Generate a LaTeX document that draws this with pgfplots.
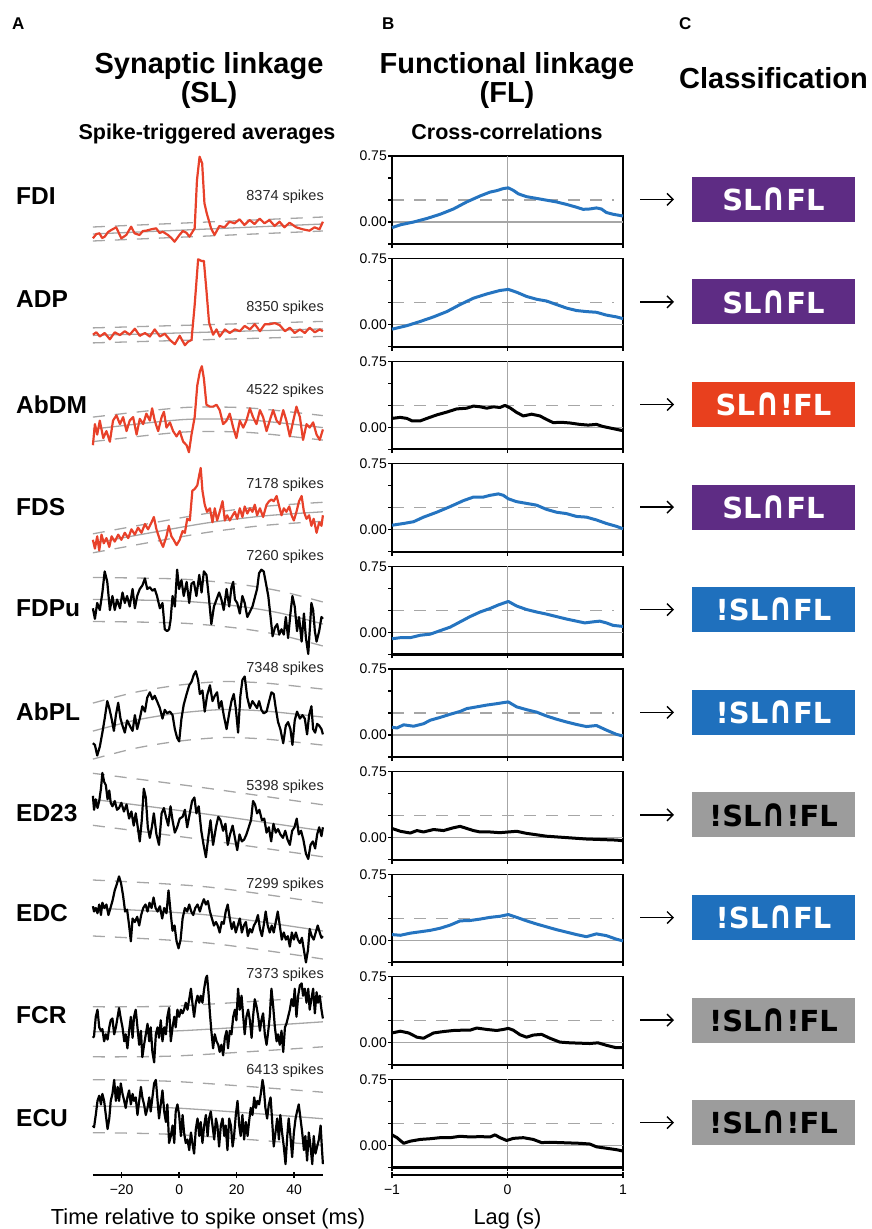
\documentclass[border=0pt]{standalone}
\usepackage{fontspec}
\setmainfont{Liberation Sans}
\newfontfamily\boxfont{DejaVu Sans}
\usepackage{graphicx}
\usepackage{pgfplots}
\pgfplotsset{compat=1.18}
\usetikzlibrary{arrows.meta}

\definecolor{stared}{HTML}{E8412A}
\definecolor{ccfblue}{HTML}{2574C0}
\definecolor{refgray}{HTML}{A6A6A6}
\definecolor{boxpurple}{HTML}{5E2C84}
\definecolor{boxred}{HTML}{E8401E}
\definecolor{boxblue}{HTML}{1F70BD}
\definecolor{boxgray}{HTML}{9C9C9C}
\newcommand\fs[1]{\fontsize{#1}{#1}\selectfont}
\newcommand\capp{\scalebox{1.05}[1.36]{∩}}

\pgfplotsset{
  ccf/.style={anchor=north west, scale only axis, width=231pt, height=88pt,
    xmin=-1, xmax=1, ymin=-0.25, ymax=0.75, enlargelimits=false, clip=false,
    axis line style={line width=1.2pt}, xtick={-1,0,1}, xticklabels={},
    ytick={0,0.75}, yticklabels={0.00,0.75}, minor ytick={-0.25,0.25,0.5},
    xtick pos=bottom, ytick pos=left, tick align=outside,
    major tick length=4pt, minor tick length=4pt, tick style={black, line width=1.2pt},
    yticklabel style={font={\fs{14}}, inner sep=1pt}},
  sta/.style={anchor=south west, x=2.875pt, y=10pt, xmin=-30, xmax=50,
    ymin=-6, ymax=8, enlargelimits=false, hide axis, clip=false},
  ref/.style={refgray, line width=1.3pt},
  sdash/.style={refgray, line width=1.3pt, dash pattern=on 12pt off 10pt},
  tracered/.style={stared, line width=2.2pt, line join=round},
  traceblack/.style={black, line width=2.2pt, line join=round},
  ccfb/.style={ccfblue, line width=3pt, line join=round},
  ccfk/.style={black, line width=3pt, line join=round},
}
\newcommand\ccfgrid{%
  \addplot[ref] coordinates {(-1,0) (1,0)};
  \addplot[ref] coordinates {(0,-0.25) (0,0.75)};
  \addplot[sdash] coordinates {(-1,0.25) (0.92,0.25)};
  \draw[line width=2.2pt] (rel axis cs:0,1) -- (rel axis cs:0,0) -- (rel axis cs:1,0);
}

\begin{document}
\begin{tikzpicture}
\useasboundingbox (0,0) rectangle (871pt,-1229pt);

% headers
\node[anchor=base west, font={\fs{17}\bfseries}, inner sep=0] at (12pt,-29pt) {A};
\node[anchor=base west, font={\fs{17}\bfseries}, inner sep=0] at (382pt,-29pt) {B};
\node[anchor=base west, font={\fs{17}\bfseries}, inner sep=0] at (679pt,-29pt) {C};
\node[anchor=base, font={\fs{29}\bfseries}, inner sep=0] at (209pt,-73pt) {Synaptic linkage};
\node[anchor=base, font={\fs{29}\bfseries}, inner sep=0] at (209pt,-102pt) {(SL)};
\node[anchor=base, font={\fs{21.5}\bfseries}, inner sep=0] at (207pt,-139pt) {Spike-triggered averages};
\node[anchor=base, font={\fs{29}\bfseries}, inner sep=0] at (507pt,-73pt) {Functional linkage};
\node[anchor=base, font={\fs{29}\bfseries}, inner sep=0] at (507pt,-102pt) {(FL)};
\node[anchor=base, font={\fs{21.5}\bfseries}, inner sep=0] at (507pt,-139pt) {Cross-correlations};
\node[anchor=base west, font={\fs{29}\bfseries}, inner sep=0] at (679pt,-88pt) {Classification};

% row labels
\foreach \yy/\nm in {204/FDI, 307.6/ADP, 413.6/AbDM, 515.1/FDS, 616.6/FDPu,
    720.2/AbPL, 821.2/ED23, 921.6/EDC, 1023.6/FCR, 1126.6/ECU}
  \node[anchor=base west, font={\fs{24.5}\bfseries}, inner sep=0] at (16pt,-\yy pt) {\nm};

% spike counts
\foreach \yy/\nm in {200.6/8374, 311.2/8350, 394.2/4522, 488.2/7178, 560.2/7260,
    672.2/7348, 790.2/5398, 888.2/7299, 978.2/7373, 1074.2/6413}
  \node[anchor=base east, font={\fs{14.5}}, text=black!85, inner sep=0] at (324pt,-\yy pt) {\nm\ spikes};

% ---------------- spike-triggered averages ----------------
% FDI
\begin{axis}[sta, at={(92.9pt,-289pt)}]
\addplot[ref] coordinates {(-30,-0.5) (50,0.5)};
\addplot[sdash] coordinates {(-30,0.2) (50,1.2)};
\addplot[sdash] coordinates {(-30,-1.2) (50,-0.2)};
\addplot[tracered] coordinates {(-30.0,-0.93) (-28.8,-0.5) (-27.7,-0.43) (-26.8,-0.9) (-25.9,-0.77) (-24.7,-0.3) (-23.6,-0.1) (-21.9,0.17) (-20.1,-0.93) (-18.4,-0.6) (-16.7,0.23) (-15.5,-0.43) (-13.8,-0.6) (-12.6,-0.2) (-11.5,-0.17) (-9.7,-0.03) (-8.0,0.07) (-6.8,-0.4) (-5.7,-0.27) (-3.9,-0.6) (-2.7,-0.9) (-1.6,-1.27) (0.1,-0.6) (1.3,-0.2) (2.5,-0.37) (3.6,-0.77) (5.4,0.07) (6.2,4.9) (7.1,7.23) (8.0,6.57) (8.8,2.57) (9.6,1.57) (11.1,0.07) (12.3,-0.6) (14.0,0.3) (15.8,0.17) (17.5,0.73) (19.3,0.57) (21.0,0.97) (22.7,0.4) (24.5,0.9) (26.2,0.5) (28.0,1.03) (29.7,0.57) (31.4,0.9) (33.2,0.3) (34.9,0.73) (36.6,0.17) (38.4,0.63) (40.7,0.17) (43.0,-0.03) (45.3,-0.17) (47.1,0.17) (48.8,-0.03) (50.0,0.73)};
\end{axis}
% ADP
\begin{axis}[sta, at={(92.9pt,-391.9pt)}]
\addplot[ref] coordinates {(-30,-0.35) (50,0.3)};
\addplot[sdash] coordinates {(-30,0.4) (50,1.05)};
\addplot[sdash] coordinates {(-30,-1.1) (50,-0.45)};
\addplot[tracered] coordinates {(-30.0,-0.28) (-28.8,-0.04) (-27.6,-0.46) (-25.9,-0.11) (-24.1,-0.74) (-22.4,-0.04) (-20.6,-0.32) (-18.9,0.07) (-17.2,-0.28) (-15.4,0.32) (-13.7,-0.39) (-11.9,-0.11) (-10.2,-0.46) (-8.5,0.25) (-6.7,-0.46) (-5.0,-0.18) (-3.2,-0.81) (-1.5,-1.23) (0.2,-0.39) (2.0,-1.33) (3.1,-0.98) (4.3,-0.81) (5.4,2.70) (6.6,7.26) (7.8,7.09) (8.6,7.09) (9.5,4.11) (10.4,0.95) (11.8,-0.28) (13.0,0.25) (14.1,-0.46) (15.9,0.25) (17.6,-0.11) (19.4,0.25) (21.1,0.07) (22.8,0.60) (24.6,0.25) (26.3,0.77) (28.1,0.07) (29.8,0.77) (31.5,0.77) (33.3,0.88) (35.0,0.67) (36.8,0.07) (38.5,0.42) (40.2,-0.11) (42.0,0.25) (43.7,-0.11) (45.4,0.42) (47.2,-0.04) (48.9,0.25) (50.0,0.07)};
\end{axis}
% AbDM
\begin{axis}[sta, at={(92.9pt,-480.6pt)}]
\addplot[ref, smooth] coordinates {(-30,-0.85) (-10,-0.2) (5,0.15) (25,0.05) (50,-0.7)};
\addplot[sdash, smooth] coordinates {(-30,0.35) (-10,1.0) (5,1.35) (25,1.25) (50,0.5)};
\addplot[sdash, smooth] coordinates {(-30,-2.1) (-10,-1.45) (5,-1.1) (25,-1.2) (50,-1.95)};
\addplot[tracered] coordinates {(-30.0,-2.46) (-29.3,-0.35) (-28.5,-1.40) (-27.6,0) (-26.4,-1.75) (-25.3,-1.05) (-24.1,-2.11) (-23.0,0) (-21.8,0.53) (-20.6,-0.35) (-19.5,0.35) (-18.3,-1.05) (-17.2,0) (-16.0,0.35) (-14.8,-1.40) (-13.7,0.18) (-12.5,-0.35) (-11.4,0.70) (-10.2,0) (-9.4,1.23) (-8.5,0) (-7.3,-1.05) (-6.1,0.35) (-5.3,0.88) (-4.4,-0.70) (-3.2,-0.18) (-2.1,-1.05) (-0.9,-1.58) (0.2,-1.05) (1.4,-2.11) (2.6,-2.46) (3.4,-3.16) (4.3,-1.40) (5.4,0.35) (6.3,3.51) (7.2,4.91) (7.9,5.44) (8.6,4.21) (9.5,1.58) (10.7,1.40) (11.8,1.40) (13.0,1.58) (14.1,1.05) (15.3,-0.35) (16.5,0) (17.6,0.70) (18.8,-0.70) (19.9,-1.75) (21.1,0) (22.3,-0.70) (23.4,0) (24.6,1.23) (25.7,0.35) (26.9,-0.35) (28.1,1.05) (29.2,0.35) (30.4,-1.05) (31.5,0) (32.7,1.05) (33.9,0) (35.0,-0.35) (36.2,1.05) (37.3,0) (38.5,-1.58) (39.7,0) (40.8,1.40) (42.0,0.35) (43.1,-1.93) (44.3,-0.35) (45.4,-0.70) (46.6,-0.18) (47.8,-1.40) (48.9,-1.93) (50.0,-0.88)};
\end{axis}
% FDS
\begin{axis}[sta, at={(92.9pt,-585.8pt)}]
\addplot[ref, smooth] coordinates {(-30,-1.75) (-10,-0.7) (10,0.3) (30,1.0) (50,1.4)};
\addplot[sdash, smooth] coordinates {(-30,-0.8) (-10,0.25) (10,1.25) (30,1.95) (50,2.35)};
\addplot[sdash, smooth] coordinates {(-30,-2.7) (-10,-1.65) (10,-0.65) (30,0.05) (50,0.45)};
\addplot[tracered] coordinates {(-30.0,-1.40) (-29.3,-2.28) (-28.5,-1.05) (-27.8,-2.46) (-27.0,-0.88) (-26.2,-1.75) (-25.3,-1.23) (-24.3,-2.11) (-23.5,-1.05) (-22.4,-1.58) (-21.2,-0.88) (-20.1,-1.40) (-18.9,-0.70) (-17.7,-1.23) (-16.6,-0.35) (-15.4,-0.88) (-14.3,-0.18) (-13.1,-0.70) (-11.9,0.18) (-10.8,-0.35) (-9.6,0.35) (-8.8,0.88) (-7.9,-0.35) (-6.7,-1.40) (-5.6,-2.11) (-4.4,-1.05) (-3.6,0) (-2.7,-1.05) (-1.9,-1.40) (-0.9,-1.93) (0.2,-1.40) (1.2,-0.53) (2.0,-0.70) (2.8,0.70) (3.7,0.53) (4.6,3.51) (5.4,3.68) (6.3,4.04) (7.0,5.09) (7.5,5.79) (8.1,3.51) (8.9,2.11) (9.7,1.40) (10.7,1.75) (11.6,0.35) (12.4,1.75) (13.2,0.53) (14.1,1.40) (15.1,2.46) (15.9,0.53) (16.7,1.05) (17.6,0.53) (18.6,1.05) (19.4,1.40) (20.2,0.70) (21.1,1.75) (22.0,0.88) (22.8,1.93) (23.7,1.23) (24.6,1.75) (25.5,1.40) (26.3,2.11) (27.1,1.05) (28.1,1.75) (29.2,0.88) (30.4,2.11) (31.3,2.46) (32.1,2.63) (32.9,2.46) (33.9,2.98) (34.8,1.93) (35.6,1.05) (36.4,1.75) (37.3,1.40) (38.3,1.93) (39.1,1.05) (39.9,0.53) (40.8,1.40) (41.7,2.46) (42.6,2.98) (43.4,1.40) (44.3,0.70) (45.2,1.05) (46.0,0) (46.8,0.70) (47.8,-0.70) (48.7,0.35) (49.5,0) (50.0,1.05)};
\end{axis}
% FDPu
\begin{axis}[sta, at={(92.9pt,-663pt)}]
\addplot[ref, smooth] coordinates {(-30,0.35) (0,0.2) (20,-0.3) (35,-1.0) (50,-2.1)};
\addplot[sdash, smooth] coordinates {(-30,2.55) (0,2.4) (20,1.9) (35,1.2) (50,0.1)};
\addplot[sdash, smooth] coordinates {(-30,-1.85) (0,-2.0) (20,-2.5) (35,-3.2) (50,-4.3)};
\addplot[traceblack] coordinates {(-30.0,-0.53) (-29.3,-1.58) (-28.5,0) (-27.6,-0.70) (-26.7,1.05) (-25.9,3.16) (-25.0,2.11) (-24.1,-0.70) (-23.2,0.70) (-22.4,-0.70) (-21.6,0.35) (-20.6,-0.53) (-19.7,1.05) (-18.9,0) (-18.1,0.70) (-17.2,-0.35) (-16.2,1.40) (-15.4,-0.53) (-14.6,0.70) (-13.7,1.40) (-12.8,1.75) (-11.9,2.46) (-11.1,1.40) (-10.2,1.58) (-9.3,1.23) (-8.5,1.40) (-7.7,0.70) (-6.7,-0.53) (-5.8,0) (-5.0,-2.63) (-4.2,-2.81) (-3.5,-2.63) (-3.0,-1.75) (-2.3,0.70) (-1.5,-0.35) (-0.7,3.33) (0.0,1.40) (0.8,2.28) (1.6,0.70) (2.6,2.11) (3.5,0) (4.3,1.93) (5.1,2.11) (6.0,0.70) (7.0,2.81) (7.8,1.05) (8.6,3.16) (9.5,2.81) (10.4,0.35) (11.2,-2.11) (12.1,-0.35) (13.0,0.35) (13.9,1.05) (14.7,0.35) (15.5,-0.70) (16.5,1.40) (17.4,-0.35) (18.2,1.58) (18.8,2.11) (19.4,0.35) (20.2,0) (21.1,-1.05) (22.0,0.70) (22.8,0) (23.7,-1.40) (24.6,-0.88) (25.5,-0.35) (26.3,0.53) (27.1,1.40) (27.8,2.98) (28.6,3.33) (29.4,3.16) (30.1,2.11) (31.0,0.70) (31.8,-1.40) (32.5,-3.33) (33.3,-2.46) (34.1,-2.11) (34.8,-3.16) (35.6,-2.63) (36.4,-3.16) (37.1,-1.40) (37.9,-3.51) (38.7,-1.05) (39.4,0.70) (40.2,-0.35) (41.0,-2.81) (41.7,-1.40) (42.6,-3.86) (43.4,-1.05) (44.1,-3.51) (44.9,-5.09) (45.4,-2.81) (46.0,0) (46.6,-0.70) (47.2,-2.81) (47.8,-3.86) (48.7,-2.81) (49.5,-1.40) (50.0,-1.58)};
\end{axis}
% AbPL
\begin{axis}[sta, at={(92.9pt,-775.1pt)}]
\addplot[ref, smooth] coordinates {(-30,-1.6) (-15,-0.5) (0,0.2) (15,0.55) (30,0.4) (50,-0.2)};
\addplot[sdash, smooth] coordinates {(-30,1.2) (-15,2.3) (0,3.0) (15,3.35) (30,3.2) (50,2.6)};
\addplot[sdash, smooth] coordinates {(-30,-4.4) (-15,-3.3) (0,-2.6) (15,-2.25) (30,-2.4) (50,-3.0)};
\addplot[traceblack] coordinates {(-30.0,-2.81) (-29.3,-2.98) (-28.5,-4.04) (-27.6,-3.16) (-26.7,-1.75) (-25.9,-0.35) (-25.0,1.40) (-24.3,0.70) (-23.5,-0.35) (-22.7,-1.58) (-22.0,0) (-21.2,1.23) (-20.4,-0.35) (-19.7,-1.05) (-18.9,-1.75) (-18.1,-0.53) (-17.2,-1.05) (-16.2,-1.58) (-15.4,0) (-14.6,-1.40) (-13.7,-0.35) (-12.8,0.88) (-11.9,0.35) (-11.1,1.75) (-10.2,2.28) (-9.3,1.58) (-8.5,1.93) (-7.7,1.40) (-6.7,0.70) (-5.8,-0.35) (-5.0,0.53) (-4.2,0.18) (-3.2,0.35) (-2.3,0) (-1.5,-1.40) (-0.7,-2.28) (0.0,-2.63) (0.8,-0.35) (1.6,1.05) (2.6,2.11) (3.5,2.98) (4.3,3.33) (5.1,4.04) (5.8,4.39) (6.6,3.51) (7.2,2.11) (8.1,2.46) (8.9,0.35) (9.7,1.93) (10.7,2.98) (11.6,1.40) (12.4,1.93) (13.2,2.28) (13.9,0.70) (14.7,1.40) (15.5,0) (16.5,-1.40) (17.4,0.18) (18.2,1.40) (19.0,2.11) (19.7,0.70) (20.5,-1.75) (21.3,1.93) (22.0,3.51) (22.8,3.86) (23.7,1.75) (24.6,0.70) (25.5,1.40) (26.3,1.05) (27.1,0.70) (27.8,1.40) (28.6,0.53) (29.4,0.18) (30.4,0.35) (31.3,1.40) (32.1,2.28) (32.9,2.11) (33.6,0.70) (34.4,-0.70) (35.2,-1.40) (36.2,-2.81) (37.1,-1.05) (37.9,-0.70) (38.7,-1.40) (39.4,-2.98) (40.2,-0.53) (41.0,0.35) (42.0,-0.35) (42.9,0) (43.7,-0.35) (44.5,-1.93) (45.2,0) (46.0,0.88) (46.6,-1.40) (47.3,-1.75) (48.0,-0.88) (48.7,-1.05) (49.5,-1.40) (50.0,-1.93)};
\end{axis}
% ED23
\begin{axis}[sta, at={(92.9pt,-873.3pt)}]
\addplot[ref, smooth] coordinates {(-30,1.4) (10,-0.1) (50,-1.75)};
\addplot[sdash, smooth] coordinates {(-30,4.0) (10,2.5) (50,0.85)};
\addplot[sdash, smooth] coordinates {(-30,-1.2) (10,-2.7) (50,-4.35)};
\addplot[traceblack] coordinates {(-30.0,1.75) (-29.6,0.35) (-29.0,1.40) (-28.4,0.53) (-27.8,1.23) (-27.2,2.46) (-26.7,4.04) (-26.1,3.16) (-25.5,2.81) (-24.9,1.40) (-24.3,2.28) (-23.8,1.05) (-23.2,0.70) (-22.4,1.23) (-21.6,0.35) (-20.9,0.53) (-20.1,1.05) (-19.2,0.18) (-18.3,0.88) (-17.4,-0.53) (-16.6,0.18) (-15.8,-1.23) (-15.1,0) (-14.3,-1.58) (-13.7,-2.81) (-13.0,-0.70) (-12.3,2.46) (-11.6,1.58) (-10.9,-1.40) (-10.2,-2.46) (-9.5,-1.40) (-8.8,0) (-7.9,-2.11) (-7.0,-3.16) (-6.1,0) (-5.3,0.53) (-4.6,-0.35) (-3.8,-1.23) (-3.0,0.70) (-2.3,-0.70) (-1.5,-1.93) (-0.7,-1.40) (0.2,-0.53) (1.2,-0.35) (2.0,0.35) (2.8,-1.40) (3.7,0) (4.5,1.23) (5.3,1.58) (6.0,0) (6.8,0.70) (7.7,-1.75) (8.5,-3.16) (9.3,-4.39) (10.1,-2.46) (10.9,-0.70) (11.8,-3.16) (12.8,-1.40) (13.6,-0.35) (14.4,-0.70) (15.3,-1.75) (16.1,-1.05) (16.9,-3.16) (17.7,-2.11) (18.6,-1.23) (19.4,-2.46) (20.2,-3.68) (21.0,-2.11) (21.8,-2.81) (22.6,-2.63) (23.4,-2.11) (24.2,-1.40) (25.0,-0.70) (25.7,1.23) (26.4,0.88) (27.1,0) (27.9,0.35) (28.8,-0.70) (29.6,-0.53) (30.4,-1.93) (31.2,-1.40) (32.0,-2.81) (32.8,-1.05) (33.6,-1.93) (34.4,-1.58) (35.2,-2.11) (36.1,-2.46) (36.9,-1.75) (37.7,-2.63) (38.5,-3.16) (39.3,-1.75) (40.1,-1.40) (40.9,-0.53) (41.6,-2.11) (42.4,-1.75) (43.2,-2.63) (44.1,-4.04) (44.9,-4.56) (45.7,-3.16) (46.5,-2.81) (47.3,-3.51) (48.0,-2.11) (48.7,-1.40) (49.5,-2.28) (50.0,-1.40)};
\end{axis}
% EDC
\begin{axis}[sta, at={(92.9pt,-975pt)}]
\addplot[ref, smooth] coordinates {(-30,0.7) (10,0.0) (50,-1.6)};
\addplot[sdash, smooth] coordinates {(-30,3.5) (10,2.8) (50,1.2)};
\addplot[sdash, smooth] coordinates {(-30,-2.1) (10,-2.8) (50,-4.4)};
\addplot[traceblack] coordinates {(-30.0,0.88) (-29.6,0.35) (-29.0,0.70) (-28.4,0.18) (-27.8,1.05) (-27.2,0) (-26.7,1.23) (-26.0,0.70) (-25.3,1.05) (-24.6,0) (-23.9,0.70) (-23.2,1.40) (-22.4,2.46) (-21.6,3.16) (-20.9,3.86) (-20.2,3.16) (-19.5,1.93) (-18.8,0.35) (-18.1,0.53) (-17.4,-1.05) (-16.8,-2.63) (-16.2,-0.35) (-15.4,-0.70) (-14.6,-0.18) (-13.9,-1.05) (-13.2,0) (-12.5,0.70) (-11.7,1.05) (-11.0,0.35) (-10.3,1.23) (-9.6,0.70) (-8.9,1.75) (-8.2,0.70) (-7.5,0.35) (-6.7,0.88) (-5.9,-0.35) (-5.2,0.70) (-4.4,0.18) (-3.7,2.46) (-3.0,0.35) (-2.3,-1.58) (-1.6,-1.05) (-0.9,-2.63) (-0.2,-3.33) (0.5,-2.46) (1.2,-0.35) (2.0,0.70) (2.8,0.35) (3.5,1.05) (4.2,0.35) (4.9,0) (5.6,0.70) (6.4,1.05) (7.2,0.35) (7.9,1.05) (8.6,1.58) (9.3,1.05) (10.0,1.40) (10.7,0.35) (11.4,-0.35) (12.1,-1.05) (12.8,-0.70) (13.4,-1.05) (14.1,-1.75) (14.8,-0.70) (15.5,-0.88) (16.2,0.35) (16.9,1.05) (17.6,-0.35) (18.3,-1.40) (19.0,-0.70) (19.7,-1.75) (20.4,-1.05) (21.1,-0.35) (21.8,-1.75) (22.5,-1.05) (23.2,-0.70) (23.9,-2.11) (24.6,-1.40) (25.3,-1.75) (26.0,-1.05) (26.7,-0.70) (27.4,0) (28.1,-1.40) (28.8,-2.11) (29.4,-1.05) (30.1,0.35) (30.8,-1.05) (31.5,-1.75) (32.2,-1.05) (32.9,-1.75) (33.6,-0.70) (34.3,0.35) (35.0,-1.05) (35.7,-2.46) (36.4,-1.75) (37.1,-2.46) (37.8,-2.11) (38.5,-3.16) (39.2,-1.75) (39.9,-2.46) (40.6,-1.75) (41.3,-2.46) (42.0,-2.81) (42.7,-2.28) (43.4,-3.51) (44.1,-4.74) (44.8,-3.51) (45.4,-1.40) (46.1,-2.11) (46.8,-2.46) (47.5,-1.75) (48.2,-1.05) (48.9,-1.75) (49.5,-2.28) (50.0,-2.11)};
\end{axis}
% FCR
\begin{axis}[sta, at={(92.9pt,-1090.8pt)}]
\addplot[ref, smooth] coordinates {(-30,-0.1) (0,0) (50,0.9)};
\addplot[sdash, smooth] coordinates {(-30,2.4) (0,2.5) (50,3.4)};
\addplot[sdash, smooth] coordinates {(-30,-2.6) (0,-2.5) (50,-1.6)};
\addplot[traceblack] coordinates {(-30,-0.70) (-29.6,-0.53) (-29.0,1.40) (-28.4,2.11) (-27.8,0.35) (-27.2,0) (-26.7,0.18) (-26.1,-1.05) (-25.5,-0.35) (-24.9,-0.88) (-24.3,0.35) (-23.8,1.05) (-23.2,1.23) (-22.6,-0.35) (-22.0,0.35) (-21.4,1.40) (-20.9,2.28) (-20.3,1.23) (-19.7,0.35) (-19.1,-1.05) (-18.6,-0.35) (-18.0,-1.75) (-17.4,0) (-16.8,1.40) (-16.2,-0.70) (-15.7,1.40) (-15.1,2.11) (-14.5,0.35) (-13.9,-1.40) (-13.3,0) (-12.8,-2.63) (-12.2,-1.40) (-11.6,-0.35) (-11.0,0.70) (-10.4,-1.05) (-9.9,0.35) (-9.3,-2.11) (-8.7,-3.16) (-8.1,-0.35) (-7.5,0.35) (-7.0,-0.70) (-6.4,1.05) (-5.8,-1.05) (-5.2,0.35) (-4.6,-0.35) (-4.1,1.40) (-3.5,2.28) (-2.9,-1.05) (-2.3,0.35) (-1.7,1.40) (-1.2,0.35) (-0.6,2.11) (0.0,1.40) (0.6,2.11) (1.2,1.75) (1.7,2.11) (2.3,2.81) (2.9,2.11) (3.5,3.16) (4.1,4.21) (4.6,2.81) (5.2,1.40) (5.8,2.81) (6.4,3.51) (7.0,2.81) (7.5,3.51) (8.1,2.81) (8.7,4.21) (9.3,5.26) (9.7,5.51) (10.2,3.86) (10.7,1.75) (11.2,0) (11.8,-1.75) (12.4,-0.35) (13.0,-1.05) (13.6,-1.40) (14.1,-2.11) (14.7,-1.40) (15.3,-2.46) (15.9,-0.70) (16.5,0) (17.0,-1.75) (17.6,0) (18.2,-0.35) (18.8,1.40) (19.4,2.11) (19.9,1.05) (20.5,4.21) (21.1,2.11) (21.7,3.51) (22.3,1.40) (22.8,-0.35) (23.4,1.40) (24.0,2.11) (24.6,1.05) (25.2,-0.70) (25.7,1.40) (26.3,3.16) (26.9,2.46) (27.5,1.40) (28.1,0) (28.6,1.05) (29.2,1.75) (29.8,-0.35) (30.4,-1.40) (31.0,0) (31.5,1.40) (32.1,4.21) (32.7,2.46) (33.3,0.35) (33.9,-1.05) (34.4,-0.35) (35.0,-1.40) (35.6,0) (36.2,-2.11) (36.8,0.35) (37.3,0.70) (37.9,1.40) (38.5,2.11) (39.1,3.16) (39.7,2.46) (40.2,4.21) (40.8,1.40) (41.4,3.51) (42.0,4.56) (42.6,4.74) (43.1,3.51) (43.7,4.21) (44.3,2.81) (44.9,4.21) (45.4,2.11) (46.0,3.16) (46.6,4.21) (47.2,1.75) (47.8,3.86) (48.3,2.81) (48.9,3.51) (49.5,2.11) (50.0,1.23)};
\end{axis}
% ECU
\begin{axis}[sta, at={(92.9pt,-1169.7pt)}]
\addplot[ref, smooth] coordinates {(-30,0.35) (0,0.15) (50,-0.9)};
\addplot[sdash, smooth] coordinates {(-30,3.0) (0,2.8) (50,1.75)};
\addplot[sdash, smooth] coordinates {(-30,-2.3) (0,-2.5) (50,-3.55)};
\addplot[traceblack] coordinates {(-30,-1.58) (-29.6,-1.75) (-29.0,-0.53) (-28.4,0.88) (-27.8,1.40) (-27.2,0.53) (-26.7,1.58) (-26.1,0.88) (-25.5,-0.53) (-24.9,-1.93) (-24.3,-0.88) (-23.8,0.88) (-23.2,1.58) (-22.6,2.98) (-22.0,0.88) (-21.4,2.28) (-20.9,0.88) (-20.3,2.63) (-19.7,1.58) (-19.1,0.88) (-18.6,0.18) (-18.0,1.23) (-17.4,1.93) (-16.8,0.53) (-16.2,1.58) (-15.7,0.88) (-15.1,1.23) (-14.5,-0.53) (-13.9,0.88) (-13.3,2.28) (-12.8,1.23) (-12.2,0.53) (-11.6,-0.53) (-11.0,0.18) (-10.4,1.23) (-9.9,-0.18) (-9.3,1.23) (-8.7,2.63) (-8.1,2.98) (-7.5,0.88) (-7.0,-0.88) (-6.4,0.53) (-5.8,1.93) (-5.2,-0.18) (-4.6,-1.23) (-4.1,0.53) (-3.5,-3.33) (-2.9,-2.63) (-2.3,-1.58) (-1.7,-3.33) (-1.2,-0.18) (-0.6,0.53) (0.0,-0.53) (0.6,-2.63) (1.2,-0.53) (1.7,-2.28) (2.3,-3.33) (2.9,-2.98) (3.5,-4.04) (4.1,-2.28) (4.6,-3.33) (5.2,-4.39) (5.8,-1.93) (6.4,-0.88) (7.0,-2.63) (7.5,-1.23) (8.1,-3.33) (8.7,-1.58) (9.3,-0.53) (9.9,-2.63) (10.4,-0.88) (11.0,-0.18) (11.6,-1.58) (12.2,-2.98) (12.8,-0.88) (13.3,-1.58) (13.9,-3.68) (14.5,-1.58) (15.1,-0.88) (15.7,-2.63) (16.2,-1.58) (16.8,-4.04) (17.4,-0.88) (18.0,-1.58) (18.6,-3.68) (19.1,-2.63) (19.7,-0.53) (20.3,0.88) (20.9,-1.58) (21.4,-2.63) (22.0,-0.53) (22.6,-2.98) (23.2,-1.23) (23.8,-2.63) (24.3,-1.23) (24.9,0.18) (25.5,-0.53) (26.1,1.23) (26.7,0.18) (27.2,0.88) (27.8,0.53) (28.4,1.58) (29.0,2.98) (29.4,2.28) (30.0,0.18) (30.6,-0.88) (31.2,0.53) (31.8,1.23) (32.3,-0.88) (32.9,-3.68) (33.5,-2.28) (34.1,-0.88) (34.7,-2.98) (35.2,-0.53) (35.8,-2.28) (36.4,-3.68) (37.0,-5.44) (37.6,-2.63) (38.1,-0.88) (38.7,-2.63) (39.3,-4.74) (39.9,-2.28) (40.5,-0.88) (41.0,-0.18) (41.6,0.53) (42.2,-0.88) (42.8,-2.28) (43.4,-4.04) (43.9,-2.63) (44.5,-5.09) (45.1,-2.28) (45.7,-3.68) (46.3,-5.44) (46.8,-2.63) (47.4,-4.39) (48.0,-3.68) (48.6,-2.98) (49.2,-1.58) (49.7,-4.04) (50.0,-5.44)};
\end{axis}

% time axis
\begin{axis}[anchor=south west, at={(92.9pt,-1175pt)}, scale only axis, width=230.1pt, height=10pt,
  xmin=-30, xmax=50, ymin=0, ymax=1, enlargelimits=false, axis x line=bottom, axis y line=none,
  axis line style={-, line width=2pt}, xtick={-20,0,20,40}, xticklabels={−20,0,20,40},
  ytick=\empty, tick align=center, major tick length=6pt, tick style={black, line width=1.5pt},
  xticklabel style={font={\fs{14}}, yshift=-3pt}]
\end{axis}
% lag axis
\begin{axis}[anchor=south west, at={(392pt,-1175pt)}, scale only axis, width=231pt, height=10pt,
  xmin=-1, xmax=1, ymin=0, ymax=1, enlargelimits=false, axis x line=bottom, axis y line=none,
  axis line style={-, line width=2pt}, xtick={-1,0,1}, xticklabels={−1,0,1},
  ytick=\empty, tick align=center, major tick length=6pt, tick style={black, line width=1.5pt},
  xticklabel style={font={\fs{14}}, yshift=-3pt}]
\end{axis}
\node[anchor=base, font={\fs{21.8}}, inner sep=0] at (208pt,-1224pt) {Time relative to spike onset (ms)};
\node[anchor=base, font={\fs{21.8}}, inner sep=0] at (507.5pt,-1224pt) {Lag (s)};

% ---------------- cross-correlations ----------------
\begin{axis}[ccf, at={(392pt,-156pt)}]
\ccfgrid
\addplot[ccfb] coordinates {(-1,-0.064) (-0.928,-0.032) (-0.813,0) (-0.698,0.04) (-0.583,0.088) (-0.468,0.148) (-0.353,0.228) (-0.237,0.296) (-0.151,0.34) (-0.094,0.356) (-0.036,0.38) (0.007,0.388) (0.05,0.36) (0.094,0.32) (0.165,0.288) (0.252,0.268) (0.338,0.248) (0.424,0.228) (0.511,0.2) (0.597,0.168) (0.655,0.144) (0.712,0.148) (0.77,0.16) (0.813,0.148) (0.856,0.108) (0.914,0.088) (1,0.068)};
\end{axis}
\begin{axis}[ccf, at={(392pt,-258.6pt)}]
\ccfgrid
\addplot[ccfb] coordinates {(-1,-0.052) (-0.871,-0.012) (-0.755,0.036) (-0.64,0.088) (-0.525,0.148) (-0.41,0.228) (-0.295,0.3) (-0.18,0.348) (-0.065,0.388) (0.007,0.4) (0.079,0.368) (0.165,0.32) (0.252,0.288) (0.338,0.268) (0.424,0.228) (0.511,0.188) (0.597,0.16) (0.683,0.148) (0.77,0.14) (0.856,0.108) (0.942,0.088) (1,0.068)};
\end{axis}
\begin{axis}[ccf, at={(392pt,-361.2pt)}]
\ccfgrid
\addplot[ccfk] coordinates {(-1,0.1) (-0.928,0.112) (-0.871,0.1) (-0.827,0.072) (-0.755,0.072) (-0.698,0.1) (-0.612,0.14) (-0.525,0.172) (-0.439,0.208) (-0.353,0.216) (-0.295,0.24) (-0.237,0.232) (-0.18,0.216) (-0.122,0.232) (-0.065,0.224) (-0.022,0.248) (0.022,0.22) (0.079,0.168) (0.137,0.128) (0.209,0.148) (0.281,0.128) (0.338,0.088) (0.396,0.052) (0.468,0.056) (0.54,0.048) (0.626,0.032) (0.698,0.024) (0.77,0.032) (0.827,0.008) (0.914,-0.016) (1,-0.04)};
\end{axis}
\begin{axis}[ccf, at={(392pt,-463.8pt)}]
\ccfgrid
\addplot[ccfb] coordinates {(-1,0.052) (-0.899,0.072) (-0.813,0.092) (-0.727,0.144) (-0.612,0.2) (-0.496,0.264) (-0.381,0.332) (-0.295,0.372) (-0.209,0.372) (-0.151,0.392) (-0.079,0.408) (-0.036,0.392) (0.007,0.352) (0.079,0.32) (0.165,0.3) (0.252,0.28) (0.338,0.232) (0.424,0.2) (0.511,0.184) (0.597,0.152) (0.683,0.144) (0.77,0.112) (0.856,0.072) (0.942,0.04) (1,0.012)};
\end{axis}
\begin{axis}[ccf, at={(392pt,-566.4pt)}]
\ccfgrid
\addplot[ccfb] coordinates {(-1,-0.072) (-0.928,-0.06) (-0.842,-0.06) (-0.755,-0.032) (-0.669,-0.02) (-0.583,0.02) (-0.496,0.06) (-0.41,0.12) (-0.324,0.18) (-0.237,0.232) (-0.151,0.272) (-0.079,0.312) (0.007,0.352) (0.079,0.3) (0.165,0.26) (0.252,0.232) (0.338,0.208) (0.424,0.18) (0.511,0.152) (0.597,0.128) (0.669,0.108) (0.741,0.12) (0.799,0.128) (0.856,0.108) (0.914,0.08) (1,0.068)};
\end{axis}
\begin{axis}[ccf, at={(392pt,-669pt)}]
\ccfgrid
\addplot[ccfb] coordinates {(-1,0.088) (-0.957,0.08) (-0.899,0.116) (-0.813,0.1) (-0.727,0.128) (-0.669,0.168) (-0.583,0.2) (-0.496,0.236) (-0.41,0.268) (-0.353,0.3) (-0.266,0.32) (-0.18,0.34) (-0.094,0.356) (-0.036,0.368) (0.007,0.376) (0.079,0.32) (0.165,0.288) (0.252,0.26) (0.338,0.216) (0.424,0.18) (0.511,0.148) (0.597,0.12) (0.683,0.096) (0.77,0.108) (0.856,0.056) (0.942,0.008) (1,-0.012)};
\end{axis}
\begin{axis}[ccf, at={(392pt,-771.6pt)}]
\ccfgrid
\addplot[ccfk] coordinates {(-1,0.104) (-0.928,0.072) (-0.842,0.052) (-0.784,0.08) (-0.727,0.064) (-0.64,0.092) (-0.554,0.08) (-0.468,0.112) (-0.41,0.128) (-0.353,0.104) (-0.295,0.08) (-0.237,0.064) (-0.151,0.064) (-0.065,0.056) (0.007,0.064) (0.079,0.072) (0.165,0.048) (0.252,0.032) (0.338,0.016) (0.424,0.008) (0.511,0) (0.597,-0.008) (0.683,-0.016) (0.77,-0.02) (0.856,-0.024) (0.942,-0.028) (1,-0.036)};
\end{axis}
\begin{axis}[ccf, at={(392pt,-874.2pt)}]
\ccfgrid
\addplot[ccfb] coordinates {(-1,0.064) (-0.928,0.056) (-0.842,0.08) (-0.755,0.096) (-0.669,0.112) (-0.583,0.136) (-0.496,0.172) (-0.41,0.22) (-0.324,0.224) (-0.237,0.24) (-0.151,0.26) (-0.065,0.272) (0.007,0.292) (0.079,0.26) (0.165,0.22) (0.252,0.184) (0.338,0.152) (0.424,0.12) (0.511,0.092) (0.597,0.064) (0.683,0.04) (0.77,0.072) (0.856,0.052) (0.942,0.012) (1,-0.008)};
\end{axis}
\begin{axis}[ccf, at={(392pt,-976.8pt)}]
\ccfgrid
\addplot[ccfk] coordinates {(-1,0.112) (-0.928,0.132) (-0.856,0.112) (-0.784,0.064) (-0.727,0.052) (-0.64,0.112) (-0.554,0.128) (-0.468,0.14) (-0.381,0.144) (-0.324,0.144) (-0.266,0.168) (-0.18,0.152) (-0.094,0.14) (-0.036,0.152) (0.007,0.164) (0.05,0.144) (0.108,0.092) (0.165,0.064) (0.223,0.088) (0.295,0.096) (0.367,0.052) (0.453,0.008) (0.54,0) (0.626,-0.004) (0.712,-0.008) (0.784,0) (0.856,-0.028) (0.942,-0.056) (1,-0.056)};
\end{axis}
\begin{axis}[ccf, at={(392pt,-1079.4pt)}]
\ccfgrid
\addplot[ccfk] coordinates {(-1,0.12) (-0.957,0.088) (-0.899,0.024) (-0.842,0.048) (-0.755,0.068) (-0.669,0.076) (-0.583,0.088) (-0.496,0.088) (-0.41,0.104) (-0.324,0.096) (-0.237,0.1) (-0.151,0.096) (-0.108,0.12) (-0.065,0.088) (-0.007,0.056) (0.05,0.08) (0.137,0.088) (0.223,0.068) (0.295,0.032) (0.367,0.036) (0.453,0.032) (0.54,0.028) (0.626,0.024) (0.712,0.016) (0.77,-0.016) (0.856,-0.032) (0.942,-0.048) (1,-0.064)};
\end{axis}

% ---------------- classification ----------------
\foreach \yy/\col/\txt/\tc in {199.3/boxpurple/SL\capp FL/white, 301.9/boxpurple/SL\capp FL/white,
    404.5/boxred/SL\capp!FL/white, 507.1/boxpurple/SL\capp FL/white, 609.7/boxblue/!SL\capp FL/white,
    712.3/boxblue/!SL\capp FL/white, 814.9/boxgray/!SL\capp!FL/black, 917.5/boxblue/!SL\capp FL/white,
    1020.1/boxgray/!SL\capp!FL/black, 1122.7/boxgray/!SL\capp!FL/black} {
  \draw[line width=1.4pt, -{Straight Barb[length=6pt, width=12pt]}] (640pt,-\yy pt) -- (674pt,-\yy pt);
  \node[fill=\col, text=\tc, minimum width=163pt, minimum height=45pt, inner sep=0,
    font={\boxfont\bfseries\fs{29}}] at (773.5pt,-\yy pt) {\txt};
}
\end{tikzpicture}
\end{document}
